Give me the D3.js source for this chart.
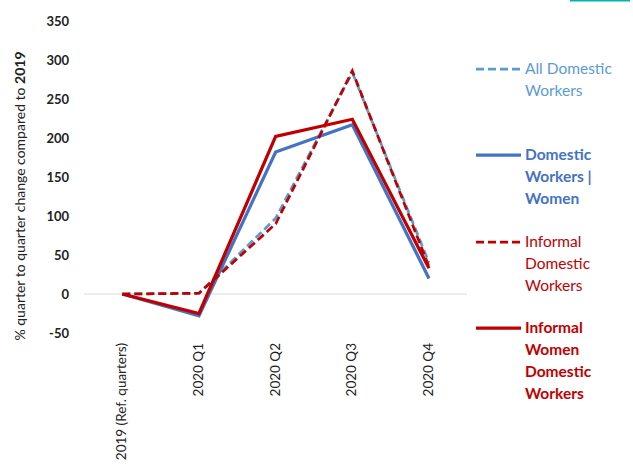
<!DOCTYPE html>
<html><head><meta charset="utf-8">
<script src="https://cdn.jsdelivr.net/npm/d3@7"></script>
<style>body{margin:0;background:#fff}svg{display:block}text{font-family:Lato,"Open Sans",sans-serif}</style>
</head><body><svg id="c" width="633" height="466"></svg>
<script>
const categories = ["2019 (Ref. quarters)", "2020 Q1", "2020 Q2", "2020 Q3", "2020 Q4"];
const allDomestic = [0, 1, 97, 284, 40];
const womenDomestic = [0, -28, 182, 217, 20];
const informalDomestic = [0, 1, 90, 286, 35];
const informalWomen = [0, -25, 202, 224, 33];
const yTicks = [-50, 0, 50, 100, 150, 200, 250, 300, 350];
const seriesNames = [["All Domestic", "Workers"], ["Domestic", "Workers |", "Women"], ["Informal", "Domestic", "Workers"], ["Informal", "Women", "Domestic", "Workers"]];

const series = [
  {name: seriesNames[0], values: allDomestic, color: "#5B9BD5", dash: "8,4", bold: false, w: 2.75},
  {name: seriesNames[1], values: womenDomestic, color: "#4472C4", dash: null, bold: true, w: 3.25},
  {name: seriesNames[2], values: informalDomestic, color: "#C00000", dash: "8,4", bold: false, w: 2.75},
  {name: seriesNames[3], values: informalWomen, color: "#C00000", dash: null, bold: true, w: 3.25}
];

const svg = d3.select("#c");
const x = d3.scalePoint().domain(categories).range([122.3, 429]);
const y = d3.scaleLinear().domain([-50, 350]).range([333, 21]);

svg.append("line").attr("x1", 570).attr("x2", 630).attr("y1", 0.5).attr("y2", 0.5).attr("stroke", "#00B4B4").attr("stroke-width", 2);

svg.append("line").attr("x1", 84).attr("x2", 467).attr("y1", y(0)).attr("y2", y(0)).attr("stroke", "#D9D9D9").attr("stroke-width", 1);

svg.append("g").selectAll("text").data(yTicks).join("text")
  .attr("x", 69).attr("y", d => y(d)).attr("dy", "0.35em")
  .attr("text-anchor", "end").attr("font-size", 13).attr("font-weight", "bold").attr("fill", "#222")
  .text(d => d);

svg.append("g").selectAll("text").data(categories).join("text")
  .attr("transform", d => `translate(${x(d) + 4},343) rotate(-90)`)
  .attr("text-anchor", "end").attr("font-size", 13.5).attr("fill", "#222")
  .text(d => d);

const yt = svg.append("text").attr("transform", "translate(25,196) rotate(-90)")
  .attr("text-anchor", "middle").attr("font-size", 14).attr("fill", "#222");
yt.append("tspan").text("% quarter to quarter change compared to ");
yt.append("tspan").attr("font-weight", "bold").text("2019");

const line = d3.line().x((d, i) => x(categories[i])).y(d => y(d));
series.forEach(s => {
  svg.append("path").datum(s.values).attr("d", line).attr("fill", "none")
    .attr("stroke", s.color).attr("stroke-width", s.w)
    .attr("stroke-dasharray", s.dash).attr("stroke-linejoin", "miter");
});

const legY = [69, 155, 242, 328];
series.forEach((s, i) => {
  const g = svg.append("g").attr("transform", `translate(0,${legY[i]})`);
  g.append("line").attr("x1", 476).attr("x2", 521).attr("y1", 0).attr("y2", 0)
    .attr("stroke", s.color).attr("stroke-width", s.w).attr("stroke-dasharray", s.dash);
  const t = g.append("text").attr("x", 525).attr("y", 0).attr("font-size", 15.5)
    .attr("fill", s.color).attr("font-weight", s.bold ? "bold" : "normal");
  s.name.forEach((ln, j) => t.append("tspan").attr("x", 525).attr("y", j * 22).attr("dy", "0.35em").text(ln));
});
</script></body></html>
